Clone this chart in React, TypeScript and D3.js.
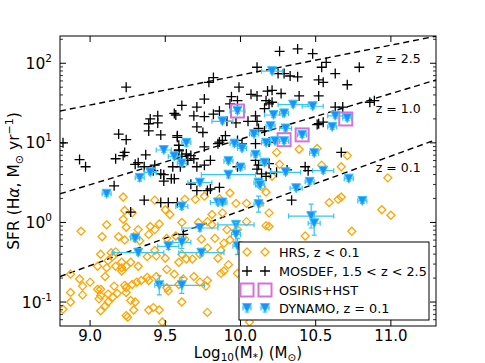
import * as d3 from "d3";

// ---- data (log stellar mass, log10 SFR)
const hrsMass = [10.24, 10.39, 10.51, 10.71, 10.26, 10.54, 10.67, 10.98, 10.21, 10.17, 10.59, 10.65, 10.67, 10.94, 11.0, 10.43, 10.74, 10.06,
  9.22, 9.43, 9.63, 9.70, 9.76, 9.93, 9.86, 10.04, 9.97, 10.13, 10.19, 9.23, 9.28, 9.50, 9.53, 9.81, 9.88, 9.78, 10.04, 10.17, 10.19,
  8.94, 9.11, 9.22, 9.24, 9.32, 9.40, 9.43, 9.46, 9.61, 9.72, 9.81, 9.91, 9.98, 9.08, 9.19, 9.29, 9.23, 9.33, 9.39, 9.51, 9.57, 9.63,
  9.74, 9.83, 9.89, 9.93, 8.87, 8.93, 8.95, 9.00, 9.05, 9.07, 9.14, 9.17, 9.12, 9.11, 9.15, 9.17, 9.21, 9.21, 9.24, 9.27, 9.32, 9.38,
  9.43, 9.44, 9.50, 9.51, 9.56, 9.59, 9.61, 9.64, 9.68, 9.73, 9.78, 9.85, 9.87, 9.92, 9.89, 9.98, 9.69, 9.73, 9.78, 9.77, 8.87, 8.95,
  9.07, 9.07, 9.06, 9.12, 9.18, 9.23, 9.24, 9.28, 9.31, 9.34, 9.38, 9.39, 9.44, 9.24, 9.27, 9.30, 9.07, 9.10, 9.12, 8.87, 8.82, 9.39,
  9.42, 9.46, 9.51, 9.52, 9.61, 9.78, 9.24, 9.25, 9.48, 9.15, 9.05, 9.62, 9.59, 9.87, 10.14, 9.21, 9.10, 9.16, 9.29];
const hrsLogSfr = [0.88, 0.92, 0.93, 0.84, 0.73, 0.72, 0.70, 0.56, 0.58, 0.38, 0.25, 0.29, 0.32, 0.16, 0.09, -0.17, -0.11, -1.25,
  0.32, 0.28, 0.29, 0.29, 0.33, 0.37, 0.30, 0.24, 0.24, 0.24, 0.12, 0.15, 0.12, 0.16, 0.10, 0.10, 0.12, 0.01, 0.01, -0.04, -0.05,
  -0.11, -0.03, 0.04, -0.06, -0.09, -0.05, -0.09, -0.02, 0.0, 0.0, -0.03, -0.09, -0.09, -0.18, -0.18, -0.18, -0.22, -0.23, -0.15, -0.20, -0.17, -0.21,
  -0.21, -0.20, -0.26, -0.22, -0.65, -0.71, -0.80, -0.75, -0.55, -0.40, -0.38, -0.37, -0.48, -0.57, -0.43, -0.55, -0.57, -0.61, -0.55, -0.50, -0.55, -0.43,
  -0.35, -0.42, -0.45, -0.59, -0.65, -0.50, -0.40, -0.46, -0.46, -0.40, -0.32, -0.45, -0.35, -0.53, -0.61, -0.64, -0.68, -0.75, -0.73, -0.80, -0.88, -0.91,
  -0.84, -0.92, -0.96, -0.90, -0.89, -0.79, -0.82, -0.78, -0.75, -0.73, -0.69, -0.73, -0.68, -0.88, -0.98, -1.00, -1.11, -1.05, -1.00, -1.00, -1.09, -1.10,
  -1.07, -1.10, -0.82, -0.86, -1.00, -1.13, -1.17, -1.19, -1.25, -0.94, -0.84, -0.71, -0.78, -0.64, 0.45, -0.50, -0.68, -0.80, -1.10];

const mosdefMass = [9.24, 8.82, 8.93, 8.97, 9.19, 9.24, 9.23, 9.22, 9.17, 9.30, 9.32, 9.37, 9.40, 9.39, 9.45, 9.45, 9.39, 9.47, 9.56, 9.57,
  9.61, 9.58, 9.58, 9.59, 9.59, 9.55, 9.60, 9.43, 9.47, 9.42, 9.56, 10.26, 10.38, 10.11, 10.25, 10.29, 10.33, 10.38, 9.82, 9.79,
  9.99, 10.07, 10.11, 10.18, 10.21, 10.27, 10.39, 9.94, 9.98, 9.76, 9.71, 9.93, 9.86, 9.82, 9.69, 9.76, 10.17, 10.19, 10.21, 10.16,
  10.10, 10.11, 10.05, 9.97, 9.91, 9.71, 9.75, 9.90, 9.86, 9.88, 9.85, 9.98, 10.01, 10.12, 10.16, 10.10, 10.19, 9.76, 9.67, 9.69,
  9.65, 9.80, 9.71, 9.76, 10.10, 10.19, 10.12, 9.98, 10.20, 10.14, 10.43, 10.45, 10.48, 10.57, 10.54, 10.79, 10.63, 10.52, 10.55, 10.71,
  10.52, 10.86, 10.89, 10.63, 10.68, 10.55, 10.52, 10.51, 10.67, 9.16, 9.36, 9.47, 9.52, 9.58, 9.27, 9.62, 9.71, 9.80, 9.86, 10.34,
  9.67, 9.78, 10.11, 10.17, 10.24, 10.31, 9.36, 9.49, 9.49, 9.54, 9.61, 9.64, 9.59];
const mosdefLogSfr = [1.70, 1.00, 0.79, 0.70, 1.11, 1.04, 0.88, 0.84, 0.80, 0.73, 0.75, 0.85, 1.30, 1.24, 1.34, 1.25, 1.15, 1.10, 1.37, 1.35,
  1.47, 1.09, 1.07, 0.97, 0.90, 0.70, 0.70, 0.72, 0.61, 0.65, 0.55, 2.15, 2.18, 1.95, 1.87, 1.87, 1.84, 1.83, 1.82, 1.76,
  1.70, 1.61, 1.59, 1.65, 1.66, 1.62, 1.59, 1.58, 1.53, 1.55, 1.45, 1.49, 1.40, 1.36, 1.34, 1.33, 1.53, 1.49, 1.51, 1.43,
  1.34, 1.27, 1.27, 1.25, 1.27, 1.20, 1.13, 1.09, 1.01, 1.03, 0.99, 1.03, 0.99, 1.18, 1.15, 0.99, 1.01, 0.95, 0.84, 0.80,
  0.78, 0.78, 0.70, 0.72, 0.78, 0.74, 0.72, 0.70, 0.62, 0.61, 0.70, 0.65, 2.12, 2.01, 1.95, 1.95, 1.87, 1.79, 1.76, 1.73,
  1.59, 1.51, 1.53, 1.45, 1.45, 1.26, 1.24, 1.23, 0.88, 0.46, 0.28, 0.25, 0.25, 0.25, 0.13, -0.15, 0.40, 0.42, 0.44, 0.28,
  0.48, 0.40, 0.67, 0.58, 0.63, 0.66, 0.70, 0.60, 0.52, 0.55, 0.83, 0.86, 0.91];

const osirisMass = [9.98, 10.29, 10.41, 10.70];
const osirisLogSfr = [1.40, 1.04, 1.10, 1.30];

const dynamoMass = [10.21, 10.35, 10.48, 9.98, 9.88, 10.71, 10.63, 10.61, 10.22, 10.29, 10.20, 10.30, 10.29, 10.41, 10.09, 10.17, 10.23,
  9.96, 10.01, 9.64, 9.49, 9.56, 9.61, 9.40, 9.33, 9.11, 9.92, 9.92, 10.00, 10.10, 10.16, 10.12, 10.13, 10.30, 10.49, 10.55, 10.46,
  10.37, 10.72, 10.81, 9.73, 9.61, 9.85, 9.88, 10.12, 10.47, 10.49, 9.73, 9.97, 9.97, 9.30, 9.32, 9.52, 9.61, 9.74, 9.98, 9.46, 9.61];
const dynamoLogSfr = [1.90, 1.48, 1.46, 1.40, 1.27, 1.31, 1.34, 1.20, 1.35, 1.37, 1.21, 1.18, 1.02, 1.10, 1.11, 1.00, 1.02,
  0.99, 0.93, 1.00, 0.91, 0.83, 0.74, 0.63, 0.56, 0.36, 0.77, 0.60, 0.69, 0.85, 0.75, 0.50, 0.47, 0.63, 0.87, 0.65, 0.51,
  0.43, 0.55, 0.27, 0.50, 0.20, 0.25, 0.25, 0.23, 0.08, -0.01, -0.07, -0.03, -0.15, -0.20, -0.38, -0.30, -0.25, -0.38, -0.30, -0.79, -0.79];
const dynamoMassErr = [0.07, 0.10, 0.07, 0.05, 0.07, 0.03, 0.05, 0.03, 0.06, 0.03, 0.03, 0.04, 0.03, 0.03, 0.03, 0.03, 0.03,
  0.03, 0.03, 0.03, 0.05, 0.04, 0.03, 0.04, 0.03, 0.03, 0.03, 0.18, 0.03, 0.03, 0.03, 0.03, 0.03, 0.10, 0.03, 0.07, 0.03,
  0.04, 0.03, 0.03, 0.08, 0.04, 0.05, 0.03, 0.03, 0.15, 0.04, 0.12, 0.12, 0.03, 0.03, 0.17, 0.07, 0.06, 0.15, 0.03, 0.03, 0.15];
const dynamoLogSfrErr = [0.03, 0.03, 0.03, 0.03, 0.03, 0.03, 0.03, 0.03, 0.03, 0.03, 0.03, 0.03, 0.03, 0.03, 0.03, 0.03, 0.03,
  0.03, 0.03, 0.04, 0.03, 0.03, 0.03, 0.03, 0.04, 0.03, 0.03, 0.04, 0.03, 0.03, 0.03, 0.05, 0.04, 0.03, 0.03, 0.03, 0.03,
  0.03, 0.03, 0.03, 0.03, 0.04, 0.03, 0.03, 0.10, 0.15, 0.15, 0.04, 0.04, 0.15, 0.04, 0.03, 0.04, 0.08, 0.04, 0.10, 0.12, 0.10];

// main-sequence lines: log SFR at the left and right edge of the mass range
const msLabels = ["z = 2.5", "z = 1.0", "z = 0.1"];
const msMassEnds = [8.8, 11.3];
const msLogSfrLeft = [1.40, 0.36, -0.68];
const msLogSfrRight = [2.34, 1.79, 1.04];
const msLabelLogSfr = [2.0, 1.38, 0.63];
const msLabelMass = 10.9;

const xTicks = [9.0, 9.5, 10.0, 10.5, 11.0];
const yTicks = [0.1, 1, 10, 100];
const yTickExp = ["-1", "0", "1", "2"];

const legendItems = ["HRS, z < 0.1", "MOSDEF, 1.5 < z < 2.5", "OSIRIS+HST", "DYNAMO, z = 0.1"];

const W = 485, H = 363;
const left = 60, right = 436, top = 36, bottom = 326;
const FONT = "DejaVu Sans, sans-serif";
const ORANGE = "#ffa500";
const ORCHID = "#da70d6";
const BLUE = "#1e8fff";
const CYAN = "#36c6f4";

const diamond = (r: number) => `M0,${-r}L${r},0L0,${r}L${-r},0Z`;
const cross = (r: number) => `M${-r},0H${r}M0,${-r}V${r}`;
const triDown = (r: number) => `M${-r},${-r}L${r},${-r}L0,${r}Z`;

export default function App() {
  const x = d3.scaleLinear().domain([8.8, 11.3]).range([left, right]);
  const y = d3.scaleLog().domain([0.05, 220]).range([bottom, top]);
  const p10 = (v: number) => Math.pow(10, v);

  const minorY: number[] = [];
  for (let e = -2; e <= 2; e++) {
    for (let k = 2; k <= 9; k++) {
      const v = k * Math.pow(10, e);
      if (v > 0.05 && v < 220) minorY.push(v);
    }
  }

  const line = d3.line<[number, number]>().x(d => x(d[0])).y(d => y(p10(d[1])));

  const legendX = 239, legendY = 242, legendW = 190, legendH = 78;
  const rowY = [252, 271, 290, 308];
  const mk = [247, 265];

  const triMarker = (cx: number, cy: number, key: string, ex = 0, ey = 0) => (
    <g key={key}>
      {ex > 0 && <path d={`M${cx - ex},${cy}H${cx + ex}M${cx - ex},${cy - 2.5}V${cy + 2.5}M${cx + ex},${cy - 2.5}V${cy + 2.5}`} stroke={CYAN} strokeWidth={1.2} fill="none" />}
      {ey > 0 && <path d={`M${cx},${cy - ey}V${cy + ey}M${cx - 2.5},${cy - ey}H${cx + 2.5}M${cx - 2.5},${cy + ey}H${cx + 2.5}`} stroke={CYAN} strokeWidth={1.2} fill="none" />}
      <path d={triDown(4.5)} transform={`translate(${cx},${cy})`} fill={BLUE} stroke={CYAN} strokeWidth={1} />
    </g>
  );

  return (
    <svg width={W} height={H} style={{ position: "absolute", left: 0, top: 0, background: "#fff" }} fontFamily={FONT}>
      <defs>
        <clipPath id="plotClip">
          <rect x={left} y={top} width={right - left} height={bottom - top} />
        </clipPath>
      </defs>

      <g clipPath="url(#plotClip)">
        {msLogSfrLeft.map((l, i) => (
          <path key={"ms" + i} d={line([[msMassEnds[0], l], [msMassEnds[1], msLogSfrRight[i]]]) || ""}
            stroke="#000" strokeWidth={1.4} strokeDasharray="6,4" fill="none" />
        ))}

        {hrsMass.map((m, i) => (
          <path key={"h" + i} d={diamond(4)} transform={`translate(${x(m)},${y(p10(hrsLogSfr[i]))})`}
            fill="none" stroke={ORANGE} strokeWidth={1.3} />
        ))}

        {mosdefMass.map((m, i) => (
          <path key={"m" + i} d={cross(5)} transform={`translate(${x(m)},${y(p10(mosdefLogSfr[i]))})`}
            fill="none" stroke="#000" strokeWidth={1.3} />
        ))}

        {osirisMass.map((m, i) => (
          <rect key={"o" + i} x={x(m) - 6.5} y={y(p10(osirisLogSfr[i])) - 6.5} width={13} height={13}
            fill="none" stroke={ORCHID} strokeWidth={2} />
        ))}

        {dynamoMass.map((m, i) => {
          const cx = x(m), cy = y(p10(dynamoLogSfr[i]));
          const ex = x(m + dynamoMassErr[i]) - cx;
          const ey = (y(p10(dynamoLogSfr[i] - dynamoLogSfrErr[i])) - y(p10(dynamoLogSfr[i] + dynamoLogSfrErr[i]))) / 2;
          return triMarker(cx, cy, "d" + i, ex, ey);
        })}
      </g>

      {msLabels.map((t, i) => (
        <text key={"ml" + i} x={x(msLabelMass)} y={y(p10(msLabelLogSfr[i]))} fontSize={12.5}>{t}</text>
      ))}

      {/* axes frame */}
      <rect x={left} y={top} width={right - left} height={bottom - top} fill="none" stroke="#000" strokeWidth={1} />

      {xTicks.map(t => (
        <g key={"xt" + t}>
          <line x1={x(t)} x2={x(t)} y1={bottom} y2={bottom - 6} stroke="#000" />
          <line x1={x(t)} x2={x(t)} y1={top} y2={top + 6} stroke="#000" />
          <text x={x(t)} y={341} fontSize={15} textAnchor="middle">{t.toFixed(1)}</text>
        </g>
      ))}

      {yTicks.map((t, i) => (
        <g key={"yt" + t}>
          <line x1={left} x2={left + 6} y1={y(t)} y2={y(t)} stroke="#000" />
          <line x1={right} x2={right - 6} y1={y(t)} y2={y(t)} stroke="#000" />
          <text x={52} y={y(t) + 5.5} fontSize={15.5} textAnchor="end">
            10<tspan fontSize={10.5} dy={-7}>{yTickExp[i]}</tspan>
          </text>
        </g>
      ))}
      {minorY.map(t => (
        <g key={"ym" + t}>
          <line x1={left} x2={left + 3} y1={y(t)} y2={y(t)} stroke="#000" strokeWidth={0.8} />
          <line x1={right} x2={right - 3} y1={y(t)} y2={y(t)} stroke="#000" strokeWidth={0.8} />
        </g>
      ))}

      <text x={(left + right) / 2} y={358} fontSize={15} textAnchor="middle">
        Log<tspan fontSize={10.5} dy={3}>10</tspan><tspan dy={-3}>(M</tspan><tspan fontSize={10.5} dy={3}>*</tspan><tspan dy={-3}>) (M</tspan><tspan fontSize={10.5} dy={3}>⊙</tspan><tspan dy={-3}>)</tspan>
      </text>

      <text transform={`translate(19,${(top + bottom) / 2}) rotate(-90)`} fontSize={15.5} textAnchor="middle">
        SFR (H<tspan fontStyle="italic">α</tspan>, M<tspan fontSize={11} dy={4}>⊙</tspan><tspan dy={-4}> yr</tspan><tspan fontSize={11} dy={-6}>−1</tspan><tspan dy={6}>)</tspan>
      </text>

      {/* legend */}
      <g>
        <rect x={legendX} y={legendY} width={legendW} height={legendH} fill="#fff" stroke="#000" strokeWidth={1} />
        {mk.map((cx, j) => (
          <g key={"lg" + j}>
            <path d={diamond(4)} transform={`translate(${cx},${rowY[0]})`} fill="none" stroke={ORANGE} strokeWidth={1.3} />
            <path d={cross(5)} transform={`translate(${cx},${rowY[1]})`} fill="none" stroke="#000" strokeWidth={1.3} />
            <rect x={cx - 6.5} y={rowY[2] - 6.5} width={13} height={13} fill="none" stroke={ORCHID} strokeWidth={2} />
            {triMarker(cx, rowY[3], "lt" + j, 4, 4)}
          </g>
        ))}
        {legendItems.map((t, i) => (
          <text key={"lt" + i} x={279} y={rowY[i] + 4.5} fontSize={12.8}>{t}</text>
        ))}
      </g>
    </svg>
  );
}
